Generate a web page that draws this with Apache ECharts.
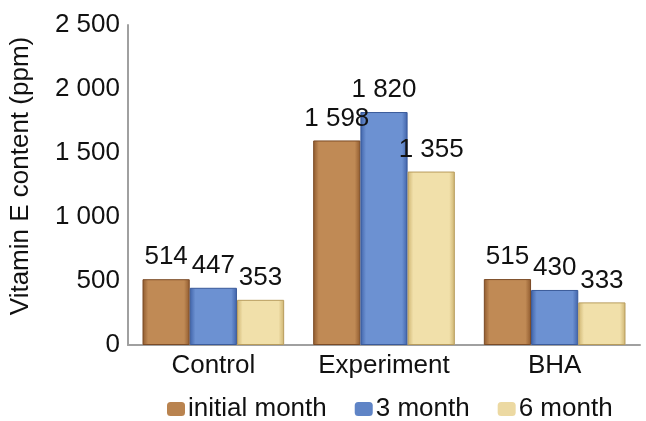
<!DOCTYPE html>
<html>
<head>
<meta charset="utf-8">
<script src="https://cdn.jsdelivr.net/npm/echarts@6/dist/echarts.min.js"></script>
<style>
  html, body { margin: 0; padding: 0; background: #fff; }
  #chart { width: 646px; height: 421px; }
</style>
</head>
<body>
<div id="chart"></div>
<script>
// Vitamin E content over storage time for each treatment group
const groups = ['Control', 'Experiment', 'BHA'];
const initialMonth = [514, 1598, 515];
const month3 = [447, 1820, 430];
const month6 = [353, 1355, 333];
const yTicks = { min: 0, max: 2500, step: 500 };

// thousands separated by a space, e.g. 1 598
function spaced(v) {
  return String(Math.round(v)).replace(/\B(?=(\d{3})+(?!\d))/g, ' ');
}

function barFill(edge, mid) {
  return new echarts.graphic.LinearGradient(0, 0, 1, 0, [
    { offset: 0, color: edge },
    { offset: 0.12, color: mid },
    { offset: 0.88, color: mid },
    { offset: 1, color: edge }
  ]);
}

const FONT = 'Liberation Sans, Arial, sans-serif';
const FS = 26;

function makeSeries(name, data, edge, mid, border) {
  return {
    name: name,
    type: 'bar',
    data: data,
    barGap: '0%',
    barCategoryGap: '17%',
    itemStyle: { color: barFill(edge, mid), borderColor: border, borderWidth: 1 },
    label: {
      show: true,
      position: 'top',
      distance: 9,
      color: '#111',
      fontSize: FS,
      fontFamily: FONT,
      formatter: p => spaced(p.value)
    }
  };
}

const chart = echarts.init(document.getElementById('chart'), null, { renderer: 'canvas' });
chart.setOption({
  animation: false,
  textStyle: { fontFamily: FONT },
  grid: { left: 127, right: 6, top: 25, bottom: 76 },
  legend: {
    top: 391,
    left: 162,
    itemWidth: 18,
    itemHeight: 14,
    itemGap: 28,
    textStyle: { fontSize: FS, color: '#111', fontFamily: FONT, padding: [0, 0, 0, -2] },
    data: [
      { name: 'initial month', itemStyle: { color: '#b9834f', borderWidth: 0 } },
      { name: '3 month', itemStyle: { color: '#5f84c6', borderWidth: 0 } },
      { name: '6 month', itemStyle: { color: '#ecd9a2', borderWidth: 0 } }
    ]
  },
  xAxis: {
    type: 'category',
    data: groups,
    axisLine: { lineStyle: { color: '#a0a0a0', width: 2 } },
    axisTick: { show: false },
    axisLabel: { interval: 0, fontSize: FS, color: '#111', margin: 8, fontFamily: FONT }
  },
  yAxis: {
    type: 'value',
    min: yTicks.min,
    max: yTicks.max,
    interval: yTicks.step,
    name: 'Vitamin E content (ppm)',
    nameLocation: 'middle',
    nameGap: 94,
    nameTextStyle: { fontSize: FS, color: '#111', fontFamily: FONT, padding: [0, 0, 0, 18] },
    axisLine: { show: true, lineStyle: { color: '#a0a0a0', width: 2 } },
    axisTick: { show: false },
    splitLine: { show: false },
    axisLabel: { fontSize: FS, color: '#111', margin: 8, fontFamily: FONT, formatter: v => spaced(v) }
  },
  series: [
    makeSeries('initial month', initialMonth, '#8f5a2e', '#c08a55', '#7a4a25'),
    makeSeries('3 month', month3, '#3f62a8', '#6c91d2', '#3a5a9a'),
    makeSeries('6 month', month6, '#cdb370', '#f1e0aa', '#b89c5c')
  ]
});
</script>
</body>
</html>
